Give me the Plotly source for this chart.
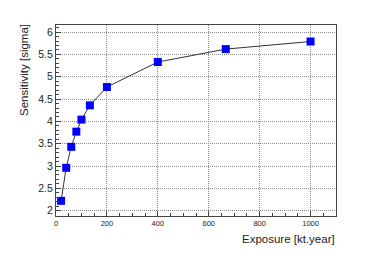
import plotly.graph_objects as go

exposure = [20, 40, 60, 80, 100, 133, 200, 400, 667, 1000]
sensitivity = [2.22, 2.96, 3.43, 3.77, 4.04, 4.36, 4.77, 5.33, 5.62, 5.79]

fig = go.Figure()
fig.add_trace(
    go.Scatter(
        x=exposure,
        y=sensitivity,
        mode="lines+markers",
        line=dict(color="#333333", width=1),
        marker=dict(symbol="square", size=8, color="#0000ff", line=dict(width=0)),
        showlegend=False,
    )
)

grid = dict(showgrid=True, gridcolor="#8c8c8c", griddash="1px,1px", gridwidth=1)

fig.update_layout(
    width=374,
    height=255,
    margin=dict(l=55.5, r=38, t=25, b=39),
    paper_bgcolor="white",
    plot_bgcolor="white",
    font=dict(family="Liberation Sans, Arial, sans-serif", color="#222222"),
    xaxis=dict(
        range=[0, 1100],
        tickvals=[0, 200, 400, 600, 800, 1000],
        ticks="inside",
        ticklen=5,
        tickcolor="#444444",
        tickfont=dict(size=7.5),
        minor=dict(dtick=50, tick0=0, ticks="inside", ticklen=3, tickcolor="#444444"),
        showline=True,
        linecolor="#444444",
        linewidth=1,
        mirror=True,
        zeroline=False,
        automargin=False,
        **grid,
    ),
    yaxis=dict(
        range=[1.88, 6.16],
        tickvals=[2, 2.5, 3, 3.5, 4, 4.5, 5, 5.5, 6],
        ticktext=["2", "2.5", "3", "3.5", "4", "4.5", "5", "5.5", "6"],
        ticks="inside",
        ticklen=5,
        tickcolor="#444444",
        tickfont=dict(size=10.5),
        minor=dict(dtick=0.1, tick0=0, ticks="inside", ticklen=3, tickcolor="#444444"),
        showline=True,
        linecolor="#444444",
        linewidth=1,
        mirror=True,
        zeroline=False,
        automargin=False,
        **grid,
    ),
    annotations=[
        dict(
            text="Exposure [kt.year]",
            xref="paper", yref="paper",
            x=1, y=0, yshift=-23, xshift=1,
            xanchor="right", yanchor="middle",
            showarrow=False,
            font=dict(size=11.5),
        ),
        dict(
            text="Sensitivity [sigma]",
            xref="paper", yref="paper",
            x=0, y=1, xshift=-32, yshift=3,
            xanchor="center", yanchor="top",
            textangle=-90,
            showarrow=False,
            font=dict(size=11.5),
        ),
    ],
)

# page body has a default 8px margin; drop it so the figure sits at 0,0
fig.write_html(
    "out.html",
    config={"displayModeBar": False},
    post_script="document.body.style.margin='0';",
)
